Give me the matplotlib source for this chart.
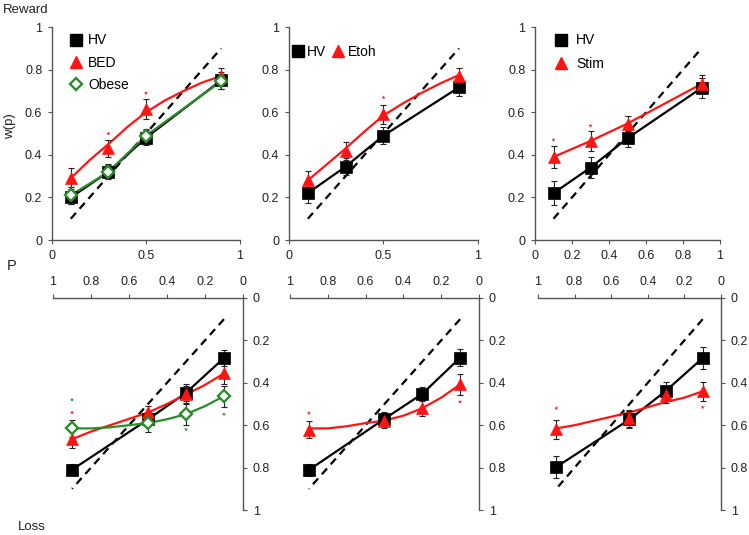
import numpy as np
import matplotlib.pyplot as plt
from matplotlib.lines import Line2D
from matplotlib.ticker import FuncFormatter

plt.rcParams['font.family'] = ['Liberation Sans', 'DejaVu Sans']
plt.rcParams['font.size'] = 9

RED = '#ff1414'
GREEN = '#2a8c2a'
GREY = '#555555'

# probabilities used in the task
p = [0.1, 0.3, 0.5, 0.9]
# grid the fitted curves were read on
p_fit = [0.1, 0.2, 0.3, 0.4, 0.5, 0.6, 0.7, 0.8, 0.9]
diag = [0.1, 0.9]

# ---- reward (top row) ----
rw_hv1 = [0.20, 0.32, 0.48, 0.75]
rw_hv1_err = [0.03, 0.03, 0.035, 0.04]
rw_bed = [0.29, 0.43, 0.615, 0.77]
rw_bed_err = [0.05, 0.04, 0.045, 0.04]
rw_bed_fit = [0.29, 0.375, 0.45, 0.53, 0.60, 0.655, 0.70, 0.74, 0.77]
rw_obese = [0.21, 0.32, 0.49, 0.745]
rw_obese_err = [0.04, 0.035, 0.03, 0.035]

rw_hv2 = [0.22, 0.345, 0.49, 0.717]
rw_hv2_err = [0.045, 0.04, 0.04, 0.04]
rw_etoh = [0.28, 0.418, 0.59, 0.77]
rw_etoh_err = [0.045, 0.04, 0.045, 0.04]
rw_etoh_fit = [0.28, 0.355, 0.43, 0.51, 0.585, 0.64, 0.69, 0.735, 0.775]

rw_hv3 = [0.22, 0.34, 0.478, 0.714]
rw_hv3_err = [0.055, 0.05, 0.04, 0.045]
rw_stim = [0.39, 0.465, 0.547, 0.733]
rw_stim_err = [0.05, 0.045, 0.035, 0.04]

# ---- loss (bottom row) ----
ls_hv1 = [0.283, 0.447, 0.573, 0.81]
ls_hv1_err = [0.04, 0.04, 0.03, 0.025]
ls_bed = [0.356, 0.453, 0.54, 0.666]
ls_bed_err = [0.05, 0.04, 0.03, 0.04]
ls_bed_fit = [0.356, 0.41, 0.455, 0.50, 0.54, 0.57, 0.60, 0.63, 0.666]
ls_obese = [0.463, 0.548, 0.59, 0.615]
ls_obese_err = [0.05, 0.05, 0.04, 0.04]
ls_obese_fit = [0.463, 0.51, 0.548, 0.572, 0.59, 0.60, 0.61, 0.615, 0.615]

ls_hv2 = [0.282, 0.452, 0.57, 0.811]
ls_hv2_err = [0.04, 0.03, 0.03, 0.03]
ls_etoh = [0.408, 0.52, 0.578, 0.622]
ls_etoh_err = [0.05, 0.035, 0.035, 0.04]
ls_etoh_fit = [0.408, 0.47, 0.52, 0.555, 0.578, 0.59, 0.605, 0.615, 0.615]

ls_hv3 = [0.283, 0.437, 0.573, 0.797]
ls_hv3_err = [0.05, 0.04, 0.04, 0.05]
ls_stim = [0.44, 0.456, 0.568, 0.62]
ls_stim_err = [0.045, 0.04, 0.04, 0.045]
ls_stim_fit = [0.44, 0.47, 0.49, 0.515, 0.54, 0.56, 0.58, 0.60, 0.615]

# significance stars (x, y, colour)
stars = {
    'rw1': ([0.3, 0.5], [0.50, 0.69], [RED, RED]),
    'rw2': ([0.5], [0.67], [RED]),
    'rw3': ([0.1, 0.3], [0.47, 0.537], [RED, RED]),
    'ls1': ([0.9, 0.9, 0.3, 0.1], [0.48, 0.54, 0.62, 0.548], [GREEN, RED, GREEN, GREEN]),
    'ls2': ([0.9, 0.1], [0.543, 0.49], [RED, RED]),
    'ls3': ([0.9, 0.1], [0.52, 0.515], [RED, RED]),
}

fig = plt.figure(figsize=(7.49, 5.35), dpi=100)
fmt = FuncFormatter(lambda v, pos: '%g' % round(v, 2))


def style(ax, top_row, xticks):
    ax.set_xlim(0, 1)
    ax.set_ylim(0, 1)
    ax.set_xticks(xticks)
    ax.set_yticks([0, 0.2, 0.4, 0.6, 0.8, 1])
    ax.xaxis.set_major_formatter(fmt)
    ax.yaxis.set_major_formatter(fmt)
    for s in ax.spines.values():
        s.set_color(GREY)
        s.set_linewidth(1.0)
    if top_row:
        ax.spines['top'].set_visible(False)
        ax.spines['right'].set_visible(False)
    else:
        ax.invert_xaxis()
        ax.invert_yaxis()
        ax.spines['bottom'].set_visible(False)
        ax.spines['left'].set_visible(False)
        ax.xaxis.tick_top()
        ax.yaxis.tick_right()
    ax.tick_params(direction='out', length=3, width=0.8, color=GREY,
                   labelcolor='#222222', labelsize=9, pad=4)
    ax.set_facecolor('none')


def draw(ax, series, star_key):
    ax.plot(diag, diag, ls=(0, (3.5, 2.5)), color='black', lw=1.6, zorder=2)
    for xs, ys, col in series['lines']:
        ax.plot(xs, ys, color=col, lw=1.6, zorder=3)
    for ys, err, col, mk, ms, fill in series['points']:
        ax.errorbar(p, ys, yerr=err, fmt='none', ecolor='#222222', elinewidth=0.8,
                    capsize=2, capthick=0.8, zorder=4)
        ax.plot(p, ys, ls='none', marker=mk, ms=ms, color=col,
                mfc=fill, mec=col, mew=1.7 if fill == 'white' else 0.5, zorder=5)
    sx, sy, sc = stars[star_key]
    ax.scatter(sx, sy, marker='*', s=10, c=sc, linewidths=0, zorder=6)


sq = dict(marker='s', color='black', ls='none', ms=8)
tri = dict(marker='^', color=RED, ls='none', ms=9)
dia = dict(marker='D', color=GREEN, mfc='white', mew=1.7, ls='none', ms=6)

top_pos = [(0.0694, 0.5514, 0.251, 0.398), (0.3858, 0.5514, 0.2523, 0.398),
           (0.7143, 0.5514, 0.247, 0.398)]
bot_pos = [(0.0708, 0.0467, 0.2536, 0.3963), (0.3872, 0.0467, 0.2523, 0.3963),
           (0.7183, 0.0467, 0.2443, 0.3963)]

# top left: HV / BED / Obese
ax = fig.add_axes(top_pos[0])
style(ax, True, [0, 0.5, 1])
draw(ax, {'lines': [(p, rw_hv1, 'black'), (p_fit, rw_bed_fit, RED), (p, rw_obese, GREEN)],
          'points': [(rw_hv1, rw_hv1_err, 'black', 's', 8, 'black'),
                     (rw_bed, rw_bed_err, RED, '^', 9, RED),
                     (rw_obese, rw_obese_err, GREEN, 'D', 6, 'white')]}, 'rw1')
ax.legend([Line2D([], [], **sq), Line2D([], [], **tri), Line2D([], [], **dia)],
          ['HV', 'BED', 'Obese'], loc='upper left', bbox_to_anchor=(0.09, 0.97),
          frameon=False, handlelength=1.0, handletextpad=0.4, labelspacing=0.6,
          borderpad=0, borderaxespad=0, fontsize=10)

# top middle: HV / Etoh
ax = fig.add_axes(top_pos[1])
style(ax, True, [0, 0.5, 1])
draw(ax, {'lines': [(p, rw_hv2, 'black'), (p_fit, rw_etoh_fit, RED)],
          'points': [(rw_hv2, rw_hv2_err, 'black', 's', 8, 'black'),
                     (rw_etoh, rw_etoh_err, RED, '^', 9, RED)]}, 'rw2')
ax.legend([Line2D([], [], **sq), Line2D([], [], **tri)], ['HV', 'Etoh'],
          loc='upper left', bbox_to_anchor=(0.02, 0.915), ncol=2, frameon=False,
          handlelength=0.8, handletextpad=0.25, columnspacing=0.45,
          borderpad=0, borderaxespad=0, fontsize=10)

# top right: HV / Stim
ax = fig.add_axes(top_pos[2])
style(ax, True, [0, 0.2, 0.4, 0.6, 0.8, 1])
draw(ax, {'lines': [(p, rw_hv3, 'black'), (p, rw_stim, RED)],
          'points': [(rw_hv3, rw_hv3_err, 'black', 's', 8, 'black'),
                     (rw_stim, rw_stim_err, RED, '^', 9, RED)]}, 'rw3')
ax.legend([Line2D([], [], **sq), Line2D([], [], **tri)], ['HV', 'Stim'],
          loc='upper left', bbox_to_anchor=(0.105, 0.97), frameon=False,
          handlelength=1.0, handletextpad=0.55, labelspacing=0.7,
          borderpad=0, borderaxespad=0, fontsize=10)

# bottom left
ax = fig.add_axes(bot_pos[0])
style(ax, False, [0, 0.2, 0.4, 0.6, 0.8, 1])
draw(ax, {'lines': [(p, ls_hv1, 'black'), (p_fit, ls_bed_fit, RED), (p_fit, ls_obese_fit, GREEN)],
          'points': [(ls_hv1, ls_hv1_err, 'black', 's', 8, 'black'),
                     (ls_bed, ls_bed_err, RED, '^', 9, RED),
                     (ls_obese, ls_obese_err, GREEN, 'D', 6, 'white')]}, 'ls1')

# bottom middle
ax = fig.add_axes(bot_pos[1])
style(ax, False, [0, 0.2, 0.4, 0.6, 0.8, 1])
draw(ax, {'lines': [(p, ls_hv2, 'black'), (p_fit, ls_etoh_fit, RED)],
          'points': [(ls_hv2, ls_hv2_err, 'black', 's', 8, 'black'),
                     (ls_etoh, ls_etoh_err, RED, '^', 9, RED)]}, 'ls2')

# bottom right
ax = fig.add_axes(bot_pos[2])
style(ax, False, [0, 0.2, 0.4, 0.6, 0.8, 1])
draw(ax, {'lines': [(p, ls_hv3, 'black'), (p_fit, ls_stim_fit, RED)],
          'points': [(ls_hv3, ls_hv3_err, 'black', 's', 8, 'black'),
                     (ls_stim, ls_stim_err, RED, '^', 9, RED)]}, 'ls3')

# figure labels
fig.text(0.004, 0.981, 'Reward', fontsize=9.5, va='center', ha='left', color='#222222')
fig.text(0.014, 0.765, 'w(p)', fontsize=9.5, va='center', ha='center', rotation=90, color='#222222')
fig.text(0.016, 0.503, 'P', fontsize=10.5, va='center', ha='center', color='#222222')
fig.text(0.043, 0.015, 'Loss', fontsize=9.5, va='center', ha='center', color='#222222')

fig.savefig('out.png', dpi=100)
